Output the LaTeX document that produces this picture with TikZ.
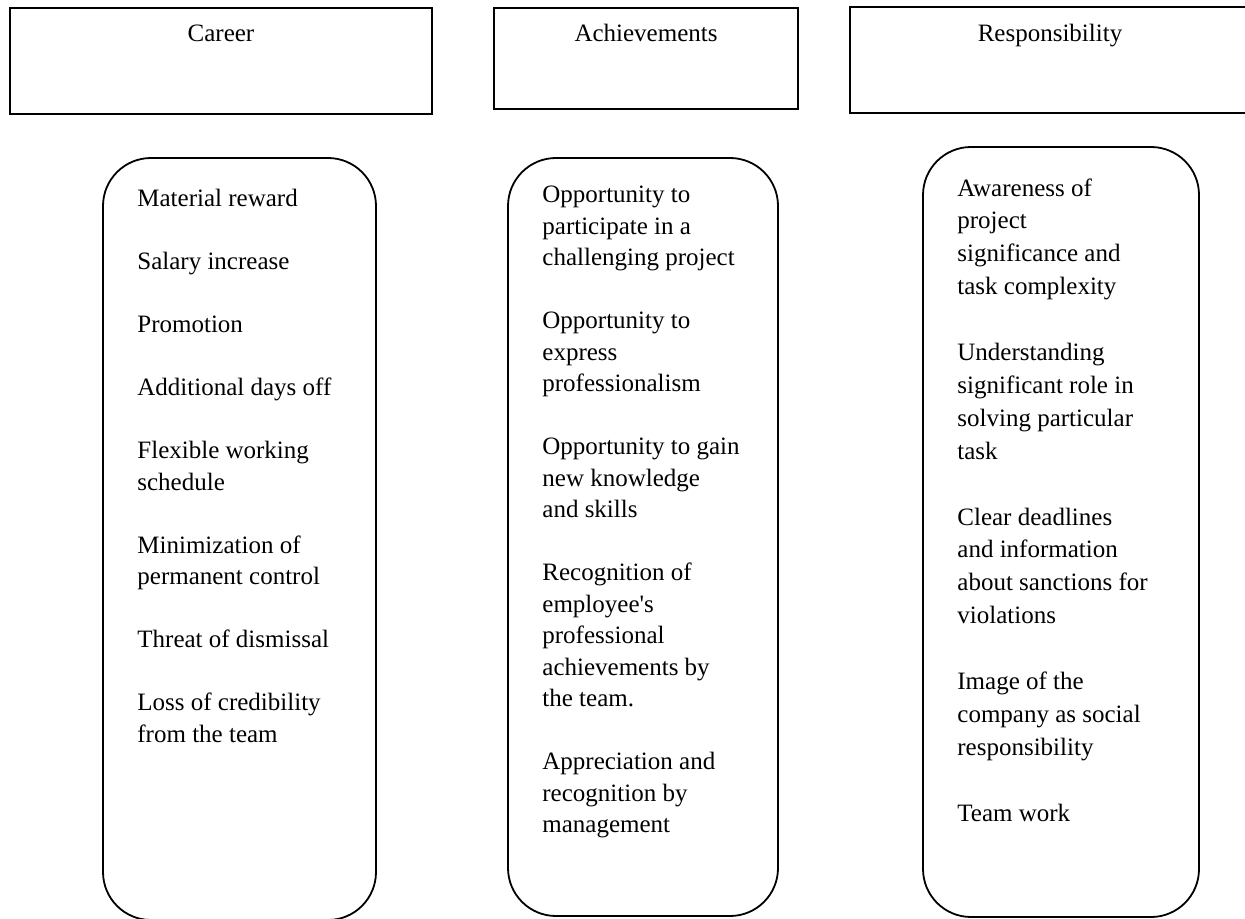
\documentclass[tikz,border=0pt]{standalone}
\usepackage{fontspec}
\setmainfont{Liberation Serif}

\newcommand{\listgap}{\\[15.75pt]}
\newcommand{\widegap}{\\[16.45pt]}

\tikzset{
  frame/.style={draw=black, line width=0.9pt},
  pill/.style={frame, rounded corners=24pt},
  headtitle/.style={anchor=base, inner sep=0pt, font=\fontsize{12.5}{15.75}\selectfont},
  itemlist/.style={anchor=north west, inner sep=0pt, align=left, font=\fontsize{12.5}{15.75}\selectfont},
  widelist/.style={itemlist, font=\fontsize{12.5}{16.45}\selectfont}
}

\begin{document}
\begin{tikzpicture}[x=0.5pt, y=-0.5pt]
\useasboundingbox (0,0) rectangle (1245,919);
\clip (0,0) rectangle (1245,919);

% =========== Header boxes ===========
\draw[frame] (10,8) rectangle (432,114);
\draw[frame] (494,8) rectangle (798,109);
\draw[frame] (850,7) rectangle (1252,113);

\node[headtitle] (career) at (221,42) {Career};
\node[headtitle] (achieve) at (646,42) {Achievements};
\node[headtitle] (resp) at (1050,42) {Responsibility};

% =========== Rounded boxes ===========
\draw[pill] (103,158) rectangle (376,920);
\draw[pill] (508,158) rectangle (778,916);
\draw[pill] (923,147) rectangle (1199,917);

% =========== Lists ===========
\node[itemlist] (careerlist) at (137,189) {%
  Material reward\listgap
  Salary increase\listgap
  Promotion\listgap
  Additional days off\listgap
  Flexible working\\schedule\listgap
  Minimization of\\permanent control\listgap
  Threat of dismissal\listgap
  Loss of credibility\\from the team};

\node[itemlist] (achievelist) at (542,186) {%
  Opportunity to\\participate in a\\challenging project\listgap
  Opportunity to\\express\\professionalism\listgap
  Opportunity to gain\\new knowledge\\and skills\listgap
  Recognition of\\employee\textquotesingle s\\professional\\achievements by\\the team.\listgap
  Appreciation and\\recognition by\\management};

\node[widelist] (resplist) at (957,178) {%
  Awareness of\\project\\significance and\\task complexity\widegap
  Understanding\\significant role in\\solving particular\\task\widegap
  Clear deadlines\\and information\\about sanctions for\\violations\widegap
  Image of the\\company as social\\responsibility\widegap
  Team work};

\end{tikzpicture}
\end{document}
